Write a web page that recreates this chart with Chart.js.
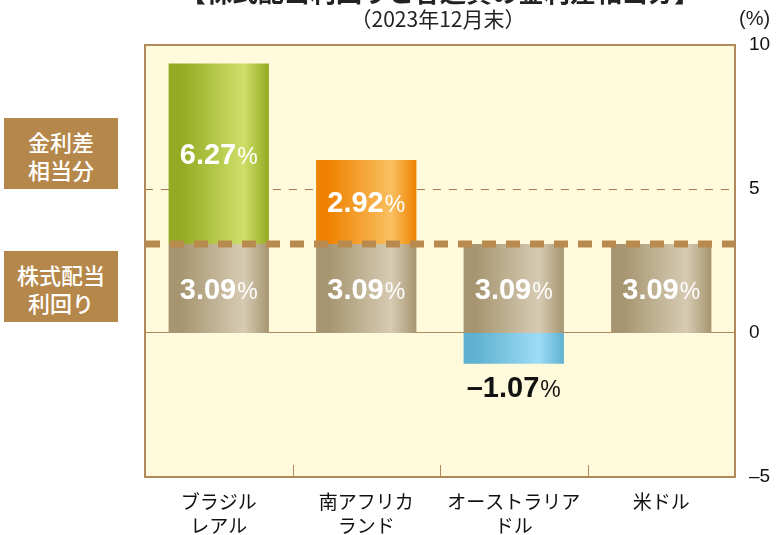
<!DOCTYPE html>
<html lang="ja">
<head>
<meta charset="utf-8">
<title>株式配当利回りと各通貨の金利差相当分</title>
<script src="https://cdn.jsdelivr.net/npm/chart.js@4/dist/chart.umd.min.js"></script>
<style>
    html, body { margin: 0; padding: 0; background: #fff; }
    .wrap { position: relative; width: 776px; height: 535px; overflow: hidden; font-family: "Noto Sans CJK JP", "Noto Sans", sans-serif; }
    .wrap canvas { position: absolute; left: 0; top: 0; }
    .title { position: absolute; left: 0; width: 880px; top: -28px; text-align: center; font-size: 26px; font-weight: bold; color: #222; white-space: nowrap; }
    .subtitle { position: absolute; left: 0; width: 876px; top: 5px; text-align: center; font-size: 21px; color: #222; line-height: 26px; }
    .unit { position: absolute; left: 739px; top: 5px; font-size: 20px; color: #222; line-height: 26px; font-family: "Liberation Sans", Arial, sans-serif; }
    .tag { position: absolute; left: 4px; width: 114px; height: 71px; background: #b5874a; color: #fff;
           font-size: 22px; font-weight: 500; line-height: 28px; text-align: center; padding-top: 3px; box-sizing: border-box;
           display: flex; align-items: center; justify-content: center; }
</style>
</head>
<body>
<div class="wrap">
    <canvas id="spreadChart" width="776" height="535"></canvas>
    <div class="title">【株式配当利回りと各通貨の金利差相当分】</div>
    <div class="subtitle">（2023年12月末）</div>
    <div class="unit">(%)</div>
    <div class="tag" style="top:118px;">金利差<br>相当分</div>
    <div class="tag" style="top:251px;">株式配当<br>利回り</div>
</div>

<script>
// Data
const categories = [['ブラジル', 'レアル'], ['南アフリカ', 'ランド'], ['オーストラリア', 'ドル'], ['米ドル']];
const dividendYield = [3.09, 3.09, 3.09, 3.09];
const rateSpread = [6.27, 2.92, -1.07, null];
const yTicks = [10, 5, 0, -5];
const dividendLine = 3.09;

const BAR_PCT = 0.68;
const BROWN = '#b08a5a';

// gradient stops: [edge, highlight]
const tanStops = ['#a69570', '#d6cbb3'];
const spreadStops = [
    ['#93aa22', '#cfdf6a'],
    ['#ef8200', '#f9c061'],
    ['#5eb1d0', '#9edcf6'],
    ['#ffffff', '#ffffff']
];

function makeGradient(context, stops) {
    const chart = context.chart;
    const area = chart.chartArea;
    const xs = chart.scales.x;
    if (!area || !xs) return stops[0];
    const cx = xs.getPixelForValue(context.dataIndex);
    const hw = (area.width / categories.length) * BAR_PCT / 2;
    const g = chart.ctx.createLinearGradient(cx - hw, 0, cx + hw, 0);
    g.addColorStop(0, stops[0]);
    g.addColorStop(0.12, stops[0]);
    g.addColorStop(0.75, stops[1]);
    g.addColorStop(1, stops[0]);
    return g;
}

// Plot background, grid lines, box and ticks
const framePlugin = {
    id: 'frame',
    beforeDatasetsDraw(chart) {
        const { ctx, chartArea: a, scales } = chart;
        ctx.save();
        ctx.fillStyle = '#fefadb';
        ctx.fillRect(a.left, a.top, a.width, a.height);

        // dashed line at 5
        const y5 = Math.round(scales.y.getPixelForValue(5)) + 0.5;
        ctx.strokeStyle = '#a27a4c';
        ctx.lineWidth = 1;
        ctx.setLineDash([8, 8]);
        ctx.beginPath();
        ctx.moveTo(a.left, y5);
        ctx.lineTo(a.right, y5);
        ctx.stroke();

        // zero line
        const y0 = Math.round(scales.y.getPixelForValue(0)) - 0.5;
        ctx.setLineDash([]);
        ctx.strokeStyle = BROWN;
        ctx.beginPath();
        ctx.moveTo(a.left, y0);
        ctx.lineTo(a.right, y0);
        ctx.stroke();
        ctx.restore();
    },
    afterDatasetsDraw(chart) {
        const { ctx, chartArea: a, scales } = chart;
        ctx.save();

        // thick dashed dividend line
        const yd = scales.y.getPixelForValue(dividendLine);
        ctx.strokeStyle = '#b98a4e';
        ctx.lineWidth = 7;
        ctx.setLineDash([14, 10]);
        ctx.beginPath();
        ctx.moveTo(a.left + 1, yd);
        ctx.lineTo(a.right, yd);
        ctx.stroke();

        // category separator ticks on the bottom
        ctx.setLineDash([]);
        ctx.lineWidth = 1;
        ctx.strokeStyle = BROWN;
        for (let i = 1; i < categories.length; i++) {
            const x = Math.round((scales.x.getPixelForTick(i - 1) + scales.x.getPixelForTick(i)) / 2) + 0.5;
            ctx.beginPath();
            ctx.moveTo(x, a.bottom);
            ctx.lineTo(x, a.bottom - 12);
            ctx.stroke();
        }

        // frame
        ctx.lineWidth = 2;
        ctx.strokeRect(a.left, a.top, a.width, a.height);
        ctx.restore();
    }
};

// Value labels "6.27%" with a smaller percent sign
function drawValue(ctx, text, cx, cy, color) {
    ctx.fillStyle = color;
    ctx.textBaseline = 'alphabetic';
    ctx.textAlign = 'left';
    ctx.font = 'bold 29px "Liberation Sans", Arial, sans-serif';
    const w1 = ctx.measureText(text).width;
    ctx.font = '23px "Liberation Sans", Arial, sans-serif';
    const w2 = ctx.measureText('%').width;
    const x0 = cx - (w1 + w2 + 1) / 2;
    const base = cy + 10.5;
    ctx.font = 'bold 29px "Liberation Sans", Arial, sans-serif';
    ctx.fillText(text, x0, base);
    ctx.font = '23px "Liberation Sans", Arial, sans-serif';
    ctx.fillText('%', x0 + w1 + 1, base);
}

const valueLabelPlugin = {
    id: 'valueLabels',
    afterDraw(chart) {
        const ctx = chart.ctx;
        ctx.save();
        chart.data.datasets.forEach((ds, di) => {
            chart.getDatasetMeta(di).data.forEach((bar, i) => {
                const v = ds.data[i];
                if (v === null || v === undefined) return;
                if (v >= 0) {
                    drawValue(ctx, v.toFixed(2), bar.x, (bar.y + bar.base) / 2, '#ffffff');
                } else {
                    drawValue(ctx, '–' + Math.abs(v).toFixed(2), bar.x, bar.y + 23, '#111111');
                }
            });
        });
        ctx.restore();
    }
};

new Chart(document.getElementById('spreadChart'), {
    type: 'bar',
    data: {
        labels: categories,
        datasets: [
            {
                label: '株式配当利回り',
                data: dividendYield,
                backgroundColor: (c) => makeGradient(c, tanStops),
                borderWidth: 0,
                barPercentage: BAR_PCT,
                categoryPercentage: 1
            },
            {
                label: '金利差相当分',
                data: rateSpread,
                backgroundColor: (c) => makeGradient(c, spreadStops[c.dataIndex]),
                borderWidth: 0,
                barPercentage: BAR_PCT,
                categoryPercentage: 1
            }
        ]
    },
    options: {
        responsive: false,
        animation: false,
        layout: { padding: { left: 145, top: 45, right: 0, bottom: 0 } },
        plugins: {
            legend: { display: false },
            tooltip: { enabled: false }
        },
        scales: {
            x: {
                stacked: true,
                grid: { display: false, drawTicks: false },
                border: { display: false },
                ticks: {
                    padding: 12,
                    color: '#111',
                    font: { family: '"Noto Sans CJK JP", sans-serif', size: 19, lineHeight: 1.3 },
                    maxRotation: 0,
                    autoSkip: false
                },
                afterFit(scale) { scale.height = 58; }
            },
            y: {
                stacked: true,
                position: 'right',
                min: -5,
                max: 10,
                afterBuildTicks(scale) { scale.ticks = yTicks.map(v => ({ value: v })); },
                grid: { display: false, drawTicks: false },
                border: { display: false },
                ticks: {
                    padding: 14,
                    color: '#111',
                    font: { family: '"Liberation Sans", Arial, sans-serif', size: 19 },
                    callback: (v) => v < 0 ? '–' + Math.abs(v) : String(v)
                },
                afterFit(scale) { scale.width = 41; }
            }
        }
    },
    plugins: [framePlugin, valueLabelPlugin]
});
</script>
</body>
</html>
